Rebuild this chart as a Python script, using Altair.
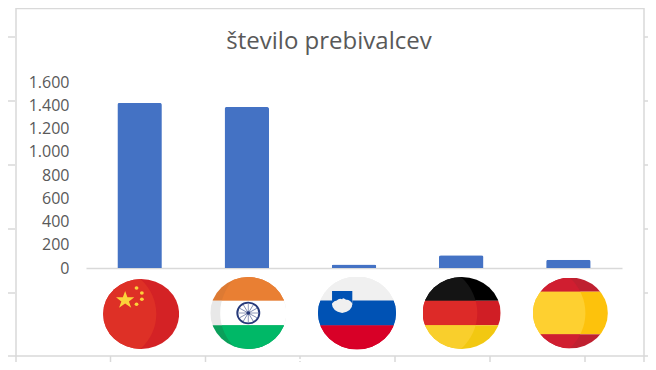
import base64
import altair as alt
import pandas as pd

countries = ["Kitajska", "Indija", "Slovenija", "Nemčija", "Španija"]
population = [1420, 1385, 30, 110, 70]
y_ticks = [0, 200, 400, 600, 800, 1000, 1200, 1400, 1600]
title_text = "število prebivalcev"

GRID = "#d9d9d9"
TEXT = "#595959"
BAR = "#4472c4"

def svg_uri(body):
    svg = ('<svg xmlns="http://www.w3.org/2000/svg" width="100" height="100" '
           'viewBox="0 0 100 100" preserveAspectRatio="none">' + body + "</svg>")
    return "data:image/svg+xml;base64," + base64.b64encode(svg.encode()).decode()

def stripes(colors, breaks):
    out, y0 = "", 0
    for c, y1 in zip(colors, breaks):
        out += f'<rect x="0" y="{y0}" width="100" height="{y1 - y0}" fill="{c}"/>'
        y0 = y1
    return out

def flag(dark, light, breaks, cx, extra=""):
    return svg_uri(
        '<defs><clipPath id="a"><circle cx="50" cy="50" r="50"/></clipPath>'
        f'<clipPath id="b"><circle cx="{cx}" cy="50" r="70"/></clipPath></defs>'
        f'<g clip-path="url(#a)">{stripes(dark, breaks)}'
        f'<g clip-path="url(#b)">{stripes(light, breaks)}</g>{extra}</g>')

star = ('<polygon fill="#fbd33a" points="29,17 32,26 41,26 34,32 37,41 29,35 21,41 24,32 17,26 26,26"/>'
        '<circle cx="44" cy="13" r="2.5" fill="#fbd33a"/><circle cx="51" cy="20" r="2.5" fill="#fbd33a"/>'
        '<circle cx="51" cy="29" r="2.5" fill="#fbd33a"/><circle cx="44" cy="36" r="2.5" fill="#fbd33a"/>')
spokes = "".join(
    f'<line x1="50" y1="50" x2="50" y2="37" stroke="#273a7a" stroke-width="0.7" transform="rotate({a} 50 50)"/>'
    for a in range(0, 360, 30))
wheel = ('<circle cx="50" cy="50" r="14.5" fill="#fff" stroke="#273a7a" stroke-width="2.5"/>'
         + spokes + '<circle cx="50" cy="50" r="2.5" fill="#273a7a"/>')
shield = ('<path d="M18 20 H44 V38 Q44 47 31 50 Q18 47 18 38 Z" fill="#f0f0f0"/>'
          '<path d="M18 20 H44 V37 Q40 31 36 32 Q32 28 31 31 Q27 29 24 33 Q21 33 18 37 Z" fill="#0052b4"/>')

flags = [
    (flag(["#d42225"], ["#de3026"], [100], 0, star), 76, 70, 1.5, 46),
    (flag(["#dd7a33", "#e8e8e8", "#0a9f5a"], ["#e97f33", "#ffffff", "#00b867"], [33, 67, 100], 83, wheel), 76, 72, 1.5, 45),
    (flag(["#f0f0f0", "#0052b4", "#d80027"], ["#f0f0f0", "#0052b4", "#d80027"], [33, 67, 100], 50, shield), 78, 73, 3, 45),
    (flag(["#000000", "#d01e25", "#f2c811"], ["#141414", "#dd2a28", "#f9cf2c"], [33, 67, 100], 0), 78, 72, 0.5, 45),
    (flag(["#bf2030", "#fdc20c", "#bf2030"], ["#d01e30", "#fed030", "#d01e30"], [20, 80, 100], 0), 75, 71, 2, 45),
]

df = pd.DataFrame({"country": countries, "population": population})
band = alt.Scale(paddingInner=0.585, paddingOuter=0.2925)
x = alt.X("country:N", sort=countries, scale=band,
          axis=alt.Axis(labels=False, ticks=False, title=None, domainColor=GRID, domainWidth=1.5))
y = alt.Y("population:Q", scale=alt.Scale(domain=[0, 1600], nice=False),
          axis=alt.Axis(values=y_ticks, title=None, domain=False, ticks=False, grid=False,
                        labelPadding=17, labelFont="Open Sans", labelFontSize=16, labelColor=TEXT,
                        labelExpr="replace(format(datum.value, ','), ',', '.')"))

bars = alt.Chart(df).mark_bar(color=BAR, cornerRadiusEnd=2).encode(x=x, y=y)

OX, OY = 86, 82   # plot origin in picture pixels
PAGE = 8          # page margin

def rule(x1, x2, y1, y2, **kw):
    return alt.Chart(df.head(1)).mark_rule(color=GRID, strokeWidth=1.5, **kw).encode(
        x=alt.value(x1 - OX), x2=alt.value(x2 - OX), y=alt.value(y1 - OY), y2=alt.value(y2 - OY))

layers = []
for ty in [37, 101, 165, 229, 293]:
    layers.append(rule(PAGE, 15, ty, ty))
    layers.append(rule(644, 648, ty, ty))
for tx, kw in [(16, {}), (110.5, {}), (205.5, {}), (300, {"strokeDash": [3, 2]}), (395, {}), (490, {}), (585, {}), (644, {})]:
    layers.append(rule(tx, tx, 356, 362, **kw))
layers.append(rule(16, 16, PAGE, 356))
layers.append(rule(644, 644, PAGE, 356))
layers.append(rule(16, 644, PAGE + 0.5, PAGE + 0.5))
layers.append(rule(PAGE, 648, 356, 356))

flag_layers = []
for c, (uri, w, h, dx, off) in zip(countries, flags):
    flag_layers.append(
        alt.Chart(pd.DataFrame({"country": [c]})).mark_image(
            url=uri, width=w, height=h, xOffset=dx, aspect=False
        ).encode(x=x, y=alt.value(186 + off))
    )

title = alt.Chart(df.head(1)).mark_text(
    font="Open Sans", fontSize=24, color=TEXT, align="center", baseline="alphabetic"
).encode(x=alt.value(329 - OX), y=alt.value(49 - OY), text=alt.value(title_text))

chart = alt.layer(*layers, bars, *flag_layers, title).properties(
    width=536, height=186,
    padding={"left": OX - PAGE, "top": OY - PAGE, "right": 26, "bottom": 94},
    autosize=alt.AutoSizeParams(type="none"),
    background="white",
).configure_view(stroke=None)

chart.save("out.html", embed_options={"renderer": "svg", "actions": False})
